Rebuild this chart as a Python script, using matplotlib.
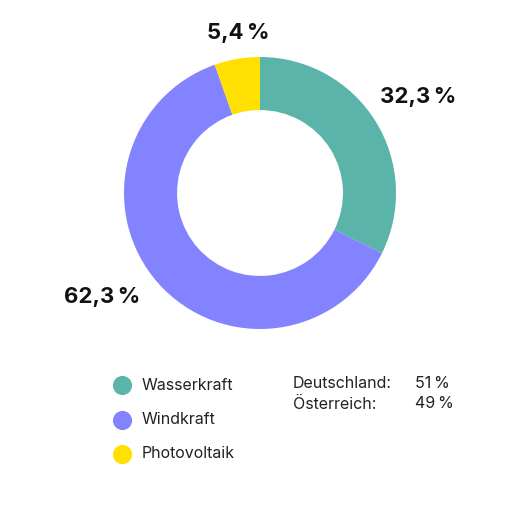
import matplotlib.pyplot as plt

plt.rcParams['font.family'] = ['Inter', 'DejaVu Sans']

# Daten
sources = ["Wasserkraft", "Windkraft", "Photovoltaik"]
shares = [32.3, 62.3, 5.4]
share_labels = ["32,3\u2009%", "62,3\u2009%", "5,4\u2009%"]
colors = ["#5bb4a9", "#8383ff", "#ffe000"]
countries = ["Deutschland:", "Österreich:"]
country_shares = ["51\u2009%", "49\u2009%"]

W = H = 520
fig = plt.figure(figsize=(5.2, 5.2), dpi=100)
ax = fig.add_axes([0, 0, 1, 1])

cx, cy = 260, H - 193
R = 136
ax.pie(shares, colors=colors, startangle=90, counterclock=False,
       center=(cx, cy), radius=R,
       wedgeprops=dict(width=R * 0.39, linewidth=0))
ax.set_xlim(0, W)
ax.set_ylim(0, H)
ax.set_aspect('equal')
ax.axis('off')

# Prozentwerte am Ring
label_pos = [(418, 97), (102, 297), (238, 33)]
for (x, y), txt in zip(label_pos, share_labels):
    ax.text(x, H - y, txt, fontsize=16, fontweight='bold', color='#111111',
            ha='center', va='center')

# Legende
leg_y = [385, 420, 454]
for y, name, c in zip(leg_y, sources, colors):
    ax.scatter([122], [H - y], s=190, color=c, linewidths=0)
    ax.text(142, H - y, name, fontsize=11.5, color='#222222', va='center', ha='left')

for i, (land, val) in enumerate(zip(countries, country_shares)):
    y = 384 + i * 20
    ax.text(293, H - y, land, fontsize=11.5, color='#222222', va='center', ha='left')
    ax.text(415, H - y, val, fontsize=11.5, color='#222222', va='center', ha='left')

fig.savefig("out.png", dpi=100)
